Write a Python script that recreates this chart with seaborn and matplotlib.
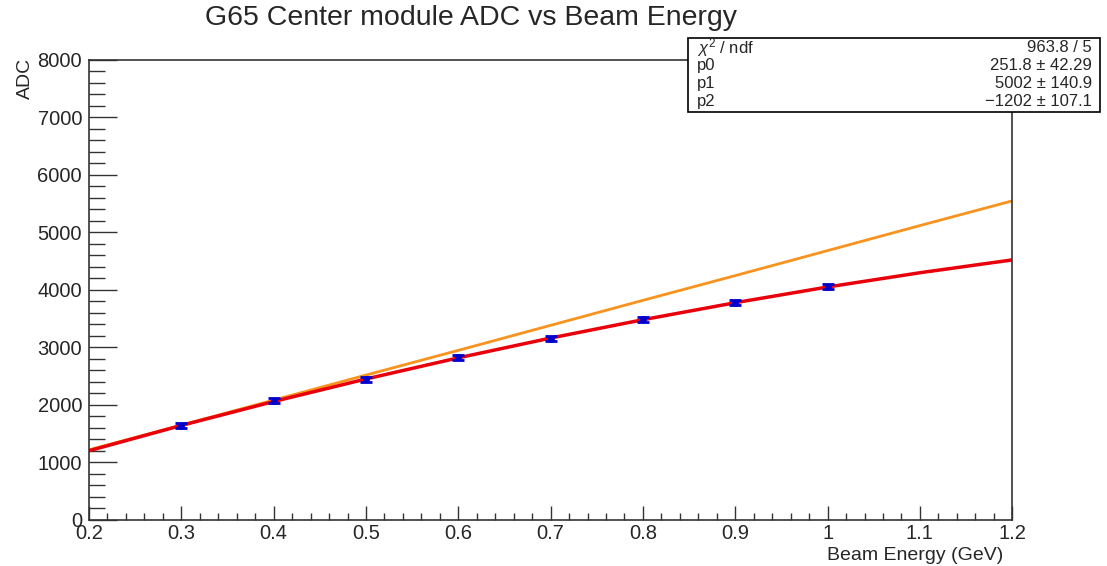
import numpy as np
import pandas as pd
import matplotlib
matplotlib.use("Agg")
import matplotlib.pyplot as plt
from matplotlib.ticker import MultipleLocator
from matplotlib.patches import Rectangle
import seaborn as sns

# data points
energy = [0.3, 0.4, 0.5, 0.6, 0.7, 0.8, 0.9, 1.0]
adc = [1640, 2075, 2450, 2830, 3150, 3490, 3780, 4060]
adc_err = [45, 45, 45, 45, 45, 45, 45, 45]

# curves
curve_x = [0.2, 0.3, 0.4, 0.5, 0.6, 0.7, 0.8, 0.9, 1.0, 1.1, 1.2]
red_fit = [1204, 1644, 2060, 2452, 2820, 3164, 3483, 3779, 4052, 4300, 4523]
orange_line = [1220, 1650, 2085, 2520, 2950, 3385, 3820, 4250, 4685, 5120, 5550]

stats_names = [r"$\chi^2$ / ndf", "p0", "p1", "p2"]
stats_vals = ["963.8 / 5", "251.8 \u00b1 42.29", "5002 \u00b1 140.9", "\u22121202 \u00b1 107.1"]

sns.set_style("ticks")
plt.rcParams['font.family'] = ['Liberation Sans', 'DejaVu Sans']
plt.rcParams['mathtext.fontset'] = 'custom'
plt.rcParams['mathtext.rm'] = 'Liberation Sans'
plt.rcParams['mathtext.it'] = 'Liberation Sans:italic'

fig = plt.figure(figsize=(11.07, 5.66), dpi=100)
ax = fig.add_axes([0.0804, 0.0813, 0.834, 0.8127])

df = pd.DataFrame({"x": curve_x, "red": red_fit, "orange": orange_line})
sns.lineplot(data=df, x="x", y="orange", color="#f7931e", linewidth=2, ax=ax)
sns.lineplot(data=df, x="x", y="red", color="#e8000b", linewidth=2.5, ax=ax)
ax.errorbar(energy, adc, yerr=adc_err, fmt="o", color="#0000cc", markersize=4,
            capsize=4, elinewidth=1.5, capthick=2, zorder=5)

ax.set_xlim(0.2, 1.2)
ax.set_ylim(0, 8000)
ax.xaxis.set_major_locator(MultipleLocator(0.1))
ax.xaxis.set_minor_locator(MultipleLocator(0.02))
ax.yaxis.set_major_locator(MultipleLocator(1000))
ax.yaxis.set_minor_locator(MultipleLocator(200))
ax.xaxis.set_major_formatter(plt.FuncFormatter(lambda v, p: f"{v:g}"))
ax.tick_params(which="both", direction="in", width=1, labelsize=14.5, color="#333333")
ax.tick_params(axis="y", which="major", length=20, pad=5)
ax.tick_params(axis="y", which="minor", length=11.5)
ax.tick_params(axis="x", which="major", length=10, pad=3)
ax.tick_params(axis="x", which="minor", length=5)
for s in ax.spines.values():
    s.set_linewidth(1.2)
    s.set_color("#333333")
ax.set_xlabel("")
ax.set_ylabel("")

fig.text(471 / 1107, 1 - 18 / 566, "G65 Center module ADC vs Beam Energy", fontsize=20.5, ha="center", va="center")
fig.text(1003 / 1107, 1 - 555 / 566, "Beam Energy (GeV)", fontsize=14, ha="right", va="center")
fig.text(17 / 1107, 1 - 58 / 566, "ADC", fontsize=14, rotation=90, ha="left", va="top")

# stats box
x0, x1 = 688 / 1107, 1100 / 1107
y0, y1 = 1 - 112 / 566, 1 - 38 / 566
fig.patches.append(Rectangle((x0, y0), x1 - x0, y1 - y0, transform=fig.transFigure,
                             facecolor="white", edgecolor="black", linewidth=1.2, zorder=10))
rows_y = [48, 66, 84, 102]
for name, val, ry in zip(stats_names, stats_vals, rows_y):
    fig.text(697 / 1107, 1 - ry / 566, name, fontsize=12, ha="left", va="center", zorder=11)
    fig.text(1092 / 1107, 1 - ry / 566, val, fontsize=12, ha="right", va="center", zorder=11)

fig.savefig("out.png", dpi=100)
